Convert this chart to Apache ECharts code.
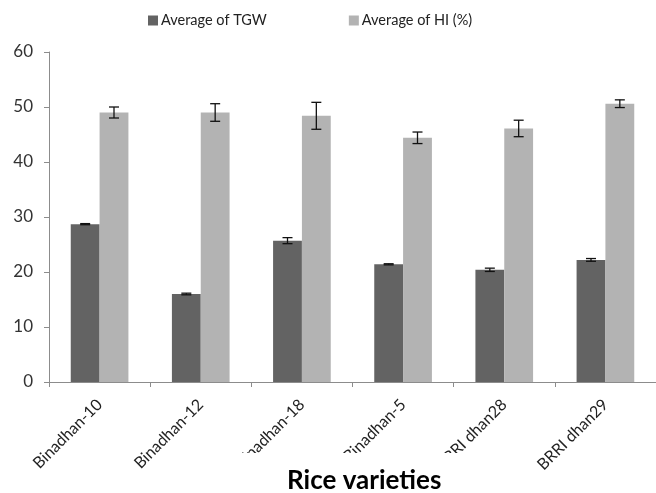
<!DOCTYPE html>
<html>
<head>
<meta charset="utf-8">
<script src="https://cdn.jsdelivr.net/npm/echarts@6/dist/echarts.min.js"></script>
<style>
html,body{margin:0;padding:0;background:#fff;overflow:hidden;}
#c{width:656px;height:493px;}
</style>
</head>
<body>
<div id="c"></div>
<script>
var categories = ['Binadhan-10', 'Binadhan-12', 'Binadhan-18', 'Binadhan-5', 'BRRI dhan28', 'BRRI dhan29'];
var tgw = [28.7, 16.0, 25.7, 21.4, 20.4, 22.2];
var tgwErr = [0.1, 0.15, 0.55, 0.1, 0.3, 0.25];
var hi = [49.0, 49.0, 48.4, 44.4, 46.1, 50.6];
var hiErr = [1.0, 1.6, 2.45, 1.05, 1.5, 0.7];
var yTicks = [0, 10, 20, 30, 40, 50, 60];

var FONT = 'Lato';
var gapRatio = 0.43;

function errSeries(vals, errs, side) {
  return {
    type: 'custom',
    z: 5,
    data: vals.map(function (v, i) { return [i, v - errs[i], v + errs[i]]; }),
    renderItem: function (params, api) {
      var i = api.value(0);
      var band = api.size([1, 0])[0];
      var bw = band * (1 - gapRatio) / 2;
      var lo = api.coord([i, api.value(1)]);
      var hiP = api.coord([i, api.value(2)]);
      var x = lo[0] + side * bw / 2;
      var cap = 5;
      var st = { stroke: '#111', lineWidth: 1.3 };
      return {
        type: 'group',
        children: [
          { type: 'line', shape: { x1: x, y1: lo[1], x2: x, y2: hiP[1] }, style: st },
          { type: 'line', shape: { x1: x - cap, y1: lo[1], x2: x + cap, y2: lo[1] }, style: st },
          { type: 'line', shape: { x1: x - cap, y1: hiP[1], x2: x + cap, y2: hiP[1] }, style: st }
        ]
      };
    },
    silent: true
  };
}

var chart = echarts.init(document.getElementById('c'), null, { renderer: 'canvas' });
chart.setOption({
  animation: false,
  backgroundColor: '#fff',
  textStyle: { fontFamily: FONT },
  title: {
    text: 'Rice varieties',
    left: 220,
    top: 453,
    padding: [15, 28, 2, 67],
    backgroundColor: '#fff',
    textStyle: { fontFamily: FONT, fontSize: 26, fontWeight: 'bold', color: '#000' }
  },
  legend: {
    left: 143,
    top: 8,
    itemWidth: 10,
    itemHeight: 10,
    itemGap: 82,
    icon: 'rect',
    textStyle: { fontFamily: FONT, fontSize: 14.5, color: '#222', padding: [0, 0, 0, -2] },
    data: ['Average of TGW', 'Average of HI (%)']
  },
  grid: { left: 49, right: -7, top: 52, bottom: 111 },
  xAxis: {
    type: 'category',
    data: categories,
    axisLine: { lineStyle: { color: '#8c8c8c' } },
    axisTick: { show: true, length: 5, lineStyle: { color: '#8c8c8c' } },
    axisLabel: { rotate: 45, fontSize: 16, color: '#222', fontFamily: FONT, margin: 20, interval: 0 },
    splitLine: { show: false }
  },
  yAxis: {
    type: 'value',
    min: yTicks[0],
    max: yTicks[yTicks.length - 1],
    interval: 10,
    axisLine: { show: true, lineStyle: { color: '#8c8c8c' } },
    axisTick: { show: true, length: 5, lineStyle: { color: '#8c8c8c' } },
    axisLabel: { fontSize: 17, color: '#333', fontFamily: FONT, margin: 16 },
    splitLine: { show: false }
  },
  series: [
    {
      name: 'Average of TGW', type: 'bar', data: tgw,
      barGap: '0%', barCategoryGap: (gapRatio * 100) + '%',
      itemStyle: { color: '#636363' }
    },
    {
      name: 'Average of HI (%)', type: 'bar', data: hi,
      barGap: '0%', barCategoryGap: (gapRatio * 100) + '%',
      itemStyle: { color: '#b3b3b3' }
    },
    errSeries(tgw, tgwErr, -1),
    errSeries(hi, hiErr, 1)
  ]
});
</script>
</body>
</html>
